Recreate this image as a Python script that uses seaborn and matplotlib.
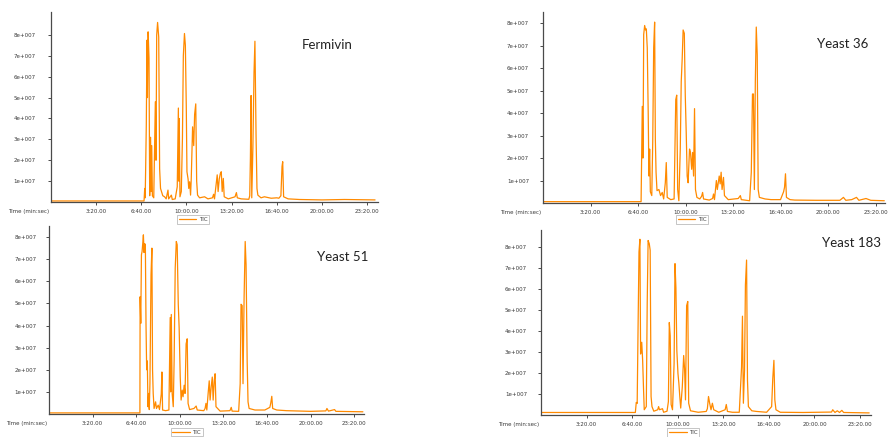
import matplotlib
matplotlib.use("Agg")
import matplotlib.pyplot as plt
from matplotlib.transforms import ScaledTranslation
import seaborn as sns
import pandas as pd

# ---------------- data (time in s, TIC intensity in units of 1e7) ----------------
fermivin_t = [0, 412, 415, 417, 419, 422, 425, 427, 430, 434, 437, 441, 443, 446, 449, 455, 462, 465, 468, 472,
              477, 481, 485, 495, 503, 510, 518, 521, 533, 537, 550, 559, 564, 566, 568, 571, 577, 582, 586, 591,
              595, 599, 602, 607, 610, 614, 618, 621, 627, 632, 636, 641, 645, 649, 658, 680, 695, 715, 720, 724,
              736, 740, 745, 750, 754, 758, 763, 767, 785, 815, 821, 825, 842, 876, 880, 883, 886, 889, 894, 899,
              903, 908, 912, 916, 930, 945, 975, 1000, 1009, 1018, 1023, 1026, 1030, 1050, 1100, 1200, 1300, 1435]
fermivin_i = [0.05, 0.05, 0.65, 0.2, 1.5, 3.7, 7.75, 5.0, 8.15, 6.9, 0.3, 3.1, 0.5, 2.7, 0.3, 0.2, 4.8, 2.0, 8.0, 8.6,
              7.9, 1.6, 0.65, 0.3, 0.25, 0.15, 0.57, 0.15, 0.33, 0.12, 0.15, 0.73, 4.5, 1.0, 4.0, 0.25, 0.5, 3.05, 7.0, 8.07,
              7.5, 4.6, 1.45, 1.1, 0.65, 0.97, 0.33, 1.1, 3.6, 2.7, 4.2, 4.7, 1.0, 0.33, 0.2, 0.25, 0.15, 0.2, 0.37, 0.15,
              1.3, 0.5, 1.1, 1.37, 1.45, 0.5, 1.13, 0.25, 0.15, 0.25, 0.45, 0.2, 0.15, 0.13, 0.3, 2.1, 5.1, 0.2, 2.6, 6.2,
              7.7, 3.2, 0.65, 0.33, 0.2, 0.25, 0.18, 0.2, 0.18, 0.3, 1.7, 1.93, 0.25, 0.15, 0.12, 0.1, 0.12, 0.1]

yeast36_t = [0, 413, 418, 421, 424, 428, 432, 435, 439, 443, 446, 449, 452, 458, 462, 466, 470, 473, 476, 480,
             488, 495, 502, 508, 515, 519, 523, 538, 552, 559, 563, 567, 572, 578, 582, 586, 590, 595, 599, 603,
             607, 611, 617, 621, 626, 630, 634, 638, 642, 648, 660, 668, 672, 676, 700, 714, 718, 722, 730, 734,
             742, 746, 750, 754, 760, 764, 780, 822, 831, 835, 870, 877, 882, 886, 890, 894, 898, 902, 906, 911,
             935, 960, 1000, 1013, 1017, 1021, 1025, 1040, 1060, 1150, 1250, 1265, 1275, 1300, 1320, 1330, 1360,
             1380, 1437]
yeast36_i = [0.06, 0.06, 4.3, 2.0, 7.5, 7.9, 7.7, 7.75, 6.9, 4.0, 1.2, 2.4, 0.5, 0.33, 2.7, 6.9, 8.05, 2.85, 1.37, 0.55,
             0.6, 0.33, 0.47, 0.18, 0.9, 1.8, 0.25, 0.15, 0.18, 4.6, 4.8, 0.6, 0.1, 2.4, 5.4, 6.4, 7.7, 7.55, 4.8, 3.15,
             1.2, 0.9, 2.4, 2.25, 1.5, 2.25, 1.2, 4.2, 0.6, 0.25, 0.18, 0.3, 0.47, 0.18, 0.13, 0.2, 0.4, 0.15, 1.0, 0.6,
             1.2, 0.85, 1.37, 0.6, 1.14, 0.33, 0.15, 0.2, 0.33, 0.15, 0.1, 1.37, 4.85, 4.85, 0.6, 5.4, 7.83, 6.6, 0.6, 0.25,
             0.18, 0.15, 0.15, 0.5, 0.7, 1.3, 0.25, 0.15, 0.13, 0.12, 0.12, 0.25, 0.12, 0.15, 0.25, 0.12, 0.2,
             0.12, 0.1]

yeast51_t = [0, 417, 418, 421, 424, 427, 430, 433, 436, 439, 442, 445, 448, 451, 454, 457, 460, 463, 468, 472,
             475, 478, 482, 489, 493, 501, 507, 515, 518, 521, 535, 550, 556, 558, 561, 565, 570, 574, 579, 584,
             588, 593, 597, 602, 606, 611, 615, 620, 624, 629, 634, 638, 645, 665, 675, 680, 710, 716, 720, 724,
             730, 735, 739, 744, 749, 753, 758, 762, 766, 785, 830, 836, 840, 870, 877, 881, 886, 890, 895, 900,
             904, 909, 913, 918, 945, 990, 1013, 1017, 1022, 1026, 1045, 1090, 1200, 1270, 1275, 1282, 1310, 1316,
             1440]
yeast51_i = [0.05, 0.05, 5.3, 4.1, 7.2, 7.35, 7.7, 8.1, 7.3, 7.7, 7.65, 4.07, 2.0, 2.4, 0.33, 0.93, 0.2, 1.37, 6.3, 7.5,
             2.0, 0.93, 0.25, 0.55, 0.25, 0.4, 0.2, 0.9, 1.9, 0.18, 0.15, 0.18, 4.36, 1.0, 4.5, 0.93, 0.33, 2.4, 6.6, 7.8,
             7.65, 4.96, 3.9, 1.67, 0.63, 1.08, 0.78, 1.3, 0.93, 3.17, 3.4, 0.48, 0.2, 0.25, 0.36, 0.18, 0.15, 0.25, 0.48, 0.18,
             0.93, 1.5, 0.63, 1.23, 1.67, 0.63, 1.52, 1.82, 0.33, 0.13, 0.15, 0.3, 0.13, 0.12, 1.37, 4.96, 4.9, 1.37, 5.3, 7.8,
             6.75, 2.4, 0.55, 0.25, 0.18, 0.18, 0.3, 0.48, 0.8, 0.25, 0.18, 0.15, 0.12, 0.14, 0.25, 0.13, 0.2, 0.12,
             0.1]

yeast183_t = [0, 414, 418, 422, 426, 430, 434, 437, 442, 446, 450, 453, 462, 466, 470, 475, 479, 483, 487, 495,
              512, 516, 520, 533, 538, 553, 559, 563, 567, 571, 577, 584, 588, 592, 596, 601, 605, 609, 613, 620,
              626, 630, 634, 639, 644, 648, 656, 690, 725, 730, 735, 740, 746, 752, 758, 780, 808, 813, 818, 840,
              870, 880, 884, 888, 893, 897, 902, 906, 910, 925, 945, 990, 1012, 1017, 1022, 1026, 1031, 1050, 1150,
              1275, 1280, 1290, 1300, 1310, 1320, 1328, 1440]
yeast183_i = [0.12, 0.12, 0.6, 0.55, 4.25, 7.76, 8.36, 2.9, 3.46, 2.6, 1.2, 0.25, 0.4, 5.3, 8.3, 8.15, 7.84, 0.88, 0.4, 0.18,
              0.25, 0.4, 0.25, 0.3, 0.13, 0.18, 0.64, 4.4, 3.77, 0.5, 0.25, 2.45, 7.2, 6.04, 3.07, 1.97, 1.5, 0.88, 0.33, 1.34,
              2.83, 2.2, 0.72, 5.2, 5.4, 0.56, 0.2, 0.13, 0.17, 0.3, 0.88, 0.56, 0.25, 0.56, 0.25, 0.13, 0.25, 0.5, 0.17, 0.13,
              0.13, 2.28, 4.7, 0.56, 2.13, 6.2, 7.37, 1.66, 0.4, 0.2, 0.17, 0.13, 0.4, 1.74, 2.6, 0.72, 0.25, 0.13, 0.12,
              0.14, 0.25, 0.12, 0.2, 0.12, 0.22, 0.12, 0.1]

sample_names = ["Fermivin", "Yeast 36", "Yeast 51", "Yeast 183"]
x_tick_values = [200, 400, 600, 800, 1000, 1200, 1400]
x_tick_labels = ["3:20.00", "6:40.00", "10:00.00", "13:20.00", "16:40.00", "20:00.00", "23:20.00"]
y_tick_values = [1, 2, 3, 4, 5, 6, 7, 8]
y_tick_labels = ["1e+007", "2e+007", "3e+007", "4e+007", "5e+007", "6e+007", "7e+007", "8e+007"]

# ---------------- style ----------------
sns.set_theme(style="ticks")
plt.rcParams["font.family"] = ["DejaVu Sans"]

W, H = 888, 437
fig = plt.figure(figsize=(W / 100, H / 100), dpi=100)
fig.patch.set_facecolor("white")

# panel layout: (left px, right px, top px, bottom px), ylim top, title pos, legend pos, ytick pad
panels = [
    dict(t=fermivin_t, i=fermivin_i, box=(51, 378, 12, 202), ytop=9.1, xmax=1448,
         title=(0.768, 0.826), leg=(0.385, -0.07), ypad=9),
    dict(t=yeast36_t, i=yeast36_i, box=(543, 885, 12, 203), ytop=8.5, xmax=1440,
         title=(0.80, 0.832), leg=(0.389, -0.065), ypad=8),
    dict(t=yeast51_t, i=yeast51_i, box=(49, 364, 226, 414), ytop=8.5, xmax=1445,
         title=(0.851, 0.835), leg=(0.386, -0.075), ypad=7),
    dict(t=yeast183_t, i=yeast183_i, box=(541, 871, 230, 415), ytop=8.8, xmax=1448,
         title=(0.852, 0.93), leg=(0.382, -0.072), ypad=8),
]

line_color = "#FF8A00"
spine_color = "#4a4a4a"
text_color = "#3a3a3a"

for name, p in zip(sample_names, panels):
    l, r, t, b = p["box"]
    ax = fig.add_axes([l / W, 1 - b / H, (r - l) / W, (b - t) / H])
    df = pd.DataFrame({"time": p["t"], "tic": p["i"]})
    sns.lineplot(data=df, x="time", y="tic", ax=ax, color=line_color, lw=0.9,
                 estimator=None, sort=False, label="TIC")
    ax.set_xlim(0, p["xmax"])
    ax.set_ylim(0, p["ytop"])
    ax.set_xticks(x_tick_values)
    ax.set_xticklabels(x_tick_labels)
    ax.set_yticks(y_tick_values)
    ax.set_yticklabels(y_tick_labels)
    ax.set_xlabel("")
    ax.set_ylabel("")
    for s in ["top", "right"]:
        ax.spines[s].set_visible(False)
    for s in ["left", "bottom"]:
        ax.spines[s].set_color(spine_color)
        ax.spines[s].set_linewidth(0.9)
    ax.tick_params(axis="x", length=2.5, width=0.7, color=spine_color, labelsize=4,
                   labelcolor=text_color, pad=2.5)
    ax.tick_params(axis="y", length=2, width=0.7, color=spine_color, labelsize=4,
                   labelcolor=text_color, pad=p["ypad"])
    ax.set_facecolor("white")
    # x-axis caption at left of tick label row
    off = ScaledTranslation(-1 / 72, -6.5 / 72, fig.dpi_scale_trans)
    ax.text(0, 0, "Time (min:sec)", transform=ax.transAxes + off, ha="right", va="center",
            fontsize=4, color=text_color)
    # sample name
    ax.text(p["title"][0], p["title"][1], name, transform=ax.transAxes, ha="left", va="center",
            fontsize=9.5, color="#222222", family=["Lato", "DejaVu Sans"])
    leg = ax.legend(loc="upper left", bbox_to_anchor=p["leg"], fontsize=4, handlelength=3.2,
                    frameon=True, fancybox=False, borderpad=0.3, borderaxespad=0,
                    handletextpad=0.4)
    leg.get_frame().set_edgecolor("#9a9a9a")
    leg.get_frame().set_linewidth(0.5)
    for txt in leg.get_texts():
        txt.set_color(text_color)

fig.savefig("out.png", dpi=100, facecolor="white")
